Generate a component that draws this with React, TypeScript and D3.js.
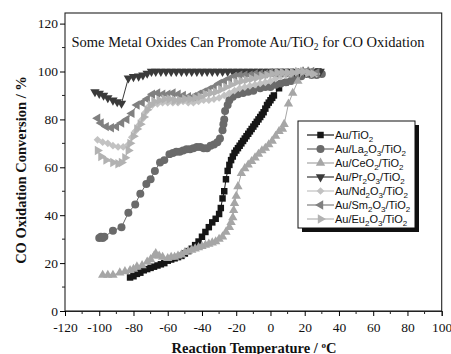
import React, { useEffect, useRef } from "react";
import * as d3 from "d3";

const xTicks = [-120, -100, -80, -60, -40, -20, 0, 20, 40, 60, 80, 100];
const yTicks = [0, 20, 40, 60, 80, 100, 120];

const auTiO2: [number, number][] = [
  [-82, 14], [-80, 14.5], [-78, 15.5], [-76, 16], [-74, 17], [-72, 17.5], [-70, 18], [-68, 18.5], [-66, 19],
  [-64, 19.5], [-62, 20], [-60, 21], [-58, 21.5], [-56, 22], [-54, 22.5], [-52, 23], [-50, 24], [-48, 25],
  [-46, 26], [-44, 27.5], [-42, 29], [-40, 31], [-38, 33], [-36, 35], [-34, 37], [-32, 38.5], [-30, 40.5],
  [-29, 43], [-28, 47], [-27, 50], [-26, 55], [-25, 58.5], [-24, 61], [-23, 63], [-22, 64.5], [-21, 66],
  [-20, 67], [-19, 68], [-18, 69], [-17, 70], [-16, 71], [-15, 72], [-14, 73], [-13, 74], [-12, 75],
  [-11, 76], [-10, 77], [-9, 78], [-8, 79], [-7, 80], [-6, 81], [-5, 82], [-4, 83], [-3, 84.5], [-2, 86],
  [-1, 87], [0, 88], [1, 89], [2, 90], [5, 93], [9, 95.5], [28, 100],
];

const auLa: [number, number][] = [
  [-100, 30.5], [-99, 31], [-98, 30.5], [-97, 31], [-92, 33.5], [-87, 35], [-83, 41], [-79, 44.5], [-76, 49],
  [-72.5, 53], [-70, 55], [-67.5, 58.5], [-64.5, 62], [-62, 63], [-59, 65.5], [-57, 66], [-55, 66.5],
  [-53, 66.5], [-51, 67], [-49, 67.5], [-47, 67.5], [-45, 68], [-43, 68.5], [-41, 68.5], [-39, 68],
  [-37, 68], [-35, 69], [-33, 69.5], [-31, 70.5], [-29.5, 72], [-28, 75.5], [-27.5, 78], [-27, 80],
  [-26.5, 83.5], [-25, 86], [-24, 88], [-22, 89.5], [-19, 90.5], [-16, 91], [-13, 91.5], [-10, 92],
  [-6, 93], [-3, 93.5], [0, 93.5], [3, 94.5], [6, 95], [9, 95.5], [12, 96], [15, 97], [18, 98], [21, 99],
  [24, 98.5], [27, 98.5], [30, 99],
];

const auCe: [number, number][] = [
  [-98, 15], [-95, 15], [-92, 15], [-88, 16], [-85, 16.5], [-82, 17], [-80, 17.5], [-78, 18.5], [-75, 19],
  [-72, 20.5], [-70, 21.5], [-68, 23], [-67, 24], [-65, 23], [-63, 22.5], [-60, 22], [-58, 22.5],
  [-56, 22.5], [-54, 23], [-52, 23.5], [-50, 24.5], [-48, 25], [-46, 25.5], [-44, 26], [-42, 26.5],
  [-40, 27], [-38, 27.5], [-36, 28], [-34, 28.5], [-32, 29], [-30, 30], [-28, 31], [-26, 33], [-24, 35],
  [-23, 37], [-22, 39], [-21.5, 42], [-21, 45], [-20, 48], [-19, 52], [-17, 57.5], [-15, 59.5], [-13, 61],
  [-11, 62.5], [-9, 64], [-7, 65.5], [-5, 67], [-3, 68], [-1, 69.5], [1, 71], [3, 73], [5, 75], [7, 76],
  [8, 78], [10.5, 86.5], [13, 91], [16, 96], [19, 100], [22, 100],
];

const auPr: [number, number][] = [
  [-102.5, 91.5], [-100, 90.8], [-97.5, 90], [-95, 89], [-92, 88], [-89.5, 87.3], [-87, 86.7], [-83, 97.2],
  [-80, 97.8], [-77, 98], [-74.5, 98.5], [-72, 99.2], [-69.5, 100], [-67, 100], [-64, 100], [-61, 100],
  [-58, 100], [-55, 100], [-52, 100], [-49, 100], [-46, 100], [-43, 100], [-40, 100], [-37, 100],
  [-34, 100], [-31, 100], [-28, 100], [-25, 100], [-22, 100], [-19, 100], [-16, 100], [-13, 100],
  [-10, 100], [-7, 100], [-4, 100], [-1, 100], [2, 100], [5, 100], [8, 100], [11, 100], [14, 100],
  [17, 100], [20, 100], [23, 100], [26, 100], [29, 100],
];

const auNd: [number, number][] = [
  [-101, 71.5], [-98, 70.5], [-95, 70], [-92, 69], [-89, 68.5], [-86, 68.5], [-83, 69.5], [-81, 72.5],
  [-79, 75], [-77, 77.5], [-75, 80], [-73, 83], [-71, 85.5], [-69, 86], [-66, 86.5], [-63, 87], [-60, 87],
  [-57, 87], [-54, 87], [-51, 87.5], [-48, 87], [-45, 87], [-42, 87.5], [-39, 88], [-36, 88], [-33, 88.5],
  [-30, 89], [-27, 90], [-24, 91], [-21, 92], [-18, 93], [-15, 93.5], [-12, 94], [-9, 94.5], [-6, 95],
  [-3, 95.5], [0, 96], [3, 97], [6, 98], [9, 98.5], [12, 99], [15, 99.5], [18, 100], [21, 99.5], [24, 99],
  [27, 99],
];

const auSm: [number, number][] = [
  [-101, 80.5], [-99, 78.5], [-96, 77], [-93, 76.5], [-90, 77], [-87, 78.5], [-84, 80], [-81, 82.5],
  [-78, 86], [-75, 87], [-72, 88.5], [-69, 90.5], [-66, 91], [-63, 90.5], [-60, 90.5], [-57, 91],
  [-54, 90.5], [-51, 90], [-48, 89.5], [-45, 89.5], [-42, 90.5], [-39, 91.5], [-36, 92.5], [-33, 93.5],
  [-30, 95], [-27, 96], [-24, 97], [-21, 98], [-18, 98.5], [-15, 98.5], [-12, 98.5], [-9, 99], [-6, 99],
  [-3, 99], [0, 99.5], [3, 99.5], [6, 99.5], [9, 99.5], [12, 99.5], [15, 99.5], [18, 100], [21, 100],
  [24, 100], [27, 99.5],
];

const auEu: [number, number][] = [
  [-101, 67], [-99, 64.5], [-96, 63], [-92, 62], [-89, 61.5], [-87, 62], [-85, 64], [-83, 67], [-82, 70],
  [-80, 73], [-78, 76], [-76, 78], [-74, 81], [-72, 84], [-70, 86], [-68, 87.5], [-65, 88], [-62, 88.5],
  [-59, 88.5], [-56, 88], [-53, 88], [-50, 88.5], [-47, 88.5], [-44, 89], [-41, 89.5], [-38, 90.5],
  [-35, 91], [-32, 91.5], [-29, 92.5], [-26, 93.5], [-23, 94.5], [-20, 95.5], [-17, 96], [-14, 96.5],
  [-11, 97], [-8, 97.5], [-5, 98], [-2, 98.5], [1, 99], [4, 99.5], [7, 99.5], [10, 99.5], [13, 99.5],
  [16, 100], [19, 100], [22, 99.5], [25, 99],
];

type Series = { name: string; sub: string[]; data: [number, number][]; color: string; shape: string };

const seriesList: Series[] = [
  { name: "Au/TiO2", sub: ["Au/TiO", "2"], data: auTiO2, color: "#161616", shape: "square" },
  { name: "Au/La2O3/TiO2", sub: ["Au/La", "2", "O", "3", "/TiO", "2"], data: auLa, color: "#6a6a6a", shape: "circle" },
  { name: "Au/CeO2/TiO2", sub: ["Au/CeO", "2", "/TiO", "2"], data: auCe, color: "#a6a6a6", shape: "up" },
  { name: "Au/Pr2O3/TiO2", sub: ["Au/Pr", "2", "O", "3", "/TiO", "2"], data: auPr, color: "#3a3a3a", shape: "down" },
  { name: "Au/Nd2O3/TiO2", sub: ["Au/Nd", "2", "O", "3", "/TiO", "2"], data: auNd, color: "#c2c2c2", shape: "diamond" },
  { name: "Au/Sm2O3/TiO2", sub: ["Au/Sm", "2", "O", "3", "/TiO", "2"], data: auSm, color: "#808080", shape: "left" },
  { name: "Au/Eu2O3/TiO2", sub: ["Au/Eu", "2", "O", "3", "/TiO", "2"], data: auEu, color: "#b2b2b2", shape: "right" },
];

const W = 451;
const H = 354;

function symbolPath(shape: string): { d: string; rot: number } {
  const sym = d3.symbol();
  switch (shape) {
    case "square":
      return { d: sym.type(d3.symbolSquare).size(42)() as string, rot: 0 };
    case "circle":
      return { d: sym.type(d3.symbolCircle).size(50)() as string, rot: 0 };
    case "up":
      return { d: sym.type(d3.symbolTriangle).size(38)() as string, rot: 0 };
    case "down":
      return { d: sym.type(d3.symbolTriangle).size(38)() as string, rot: 180 };
    case "diamond":
      return { d: sym.type(d3.symbolSquare).size(30)() as string, rot: 45 };
    case "left":
      return { d: sym.type(d3.symbolTriangle).size(38)() as string, rot: -90 };
    default:
      return { d: sym.type(d3.symbolTriangle).size(38)() as string, rot: 90 };
  }
}

export default function App() {
  const ref = useRef<SVGSVGElement>(null);

  useEffect(() => {
    const svg = d3.select(ref.current);
    svg.selectAll("*").remove();

    const x = d3.scaleLinear().domain([-120, 100]).range([65, 441.7]);
    const y = d3.scaleLinear().domain([0, 120]).range([311, 23.6]);
    const top = 13;

    // frame
    svg.append("rect").attr("x", 65).attr("y", top).attr("width", 441.7 - 65).attr("height", 311 - top)
      .attr("fill", "none").attr("stroke", "#222").attr("stroke-width", 1.1);

    // x axis
    const xAxis = d3.axisBottom(x).tickValues(xTicks).tickSize(5).tickFormat((d) => String(d));
    const gx = svg.append("g").attr("transform", "translate(0,311)").call(xAxis);
    gx.select(".domain").attr("stroke", "#222");
    gx.selectAll("text").attr("font-family", "'Liberation Serif', serif").attr("font-size", 13.5).attr("fill", "#111").attr("dy", "0.95em");
    const xMinor = d3.range(-110, 100, 20);
    gx.selectAll(".minor").data(xMinor).enter().append("line").attr("class", "minor")
      .attr("x1", (d) => x(d)).attr("x2", (d) => x(d)).attr("y1", 0).attr("y2", 3).attr("stroke", "#222");

    // y axis
    const yAxis = d3.axisLeft(y).tickValues(yTicks).tickSize(5).tickFormat((d) => String(d));
    const gy = svg.append("g").attr("transform", "translate(65,0)").call(yAxis);
    gy.select(".domain").remove();
    gy.selectAll("text").attr("font-family", "'Liberation Serif', serif").attr("font-size", 13.5).attr("fill", "#111").attr("x", -7);
    const yMinor = d3.range(10, 121, 20);
    gy.selectAll(".minor").data(yMinor).enter().append("line").attr("class", "minor")
      .attr("y1", (d) => y(d)).attr("y2", (d) => y(d)).attr("x1", 0).attr("x2", -3).attr("stroke", "#222");

    // series
    const line = d3.line<[number, number]>().x((d) => x(d[0])).y((d) => y(d[1]));
    seriesList.forEach((s) => {
      const g = svg.append("g");
      g.append("path").attr("d", line(s.data) as string).attr("fill", "none").attr("stroke", s.color).attr("stroke-width", 1);
      const sp = symbolPath(s.shape);
      g.selectAll("path.m").data(s.data).enter().append("path").attr("class", "m")
        .attr("d", sp.d)
        .attr("transform", (d) => `translate(${x(d[0])},${y(d[1])}) rotate(${sp.rot})`)
        .attr("fill", s.color);
    });

    // title
    const title = svg.append("text").attr("x", 248).attr("y", 47).attr("text-anchor", "middle")
      .attr("font-family", "'Liberation Serif', serif").attr("font-size", 14.5).attr("fill", "#111");
    title.append("tspan").text("Some Metal Oxides Can Promote Au/TiO");
    title.append("tspan").attr("font-size", 9.5).attr("dy", 3).text("2");
    title.append("tspan").attr("dy", -3).text(" for CO Oxidation");

    // legend
    const lx = 298, ly = 121, lw = 117, lh = 107;
    svg.append("rect").attr("x", lx + 4).attr("y", ly + 4).attr("width", lw).attr("height", lh).attr("fill", "#111");
    svg.append("rect").attr("x", lx).attr("y", ly).attr("width", lw).attr("height", lh).attr("fill", "#fff").attr("stroke", "#111").attr("stroke-width", 1);
    seriesList.forEach((s, i) => {
      const cy = 135 + i * 14;
      svg.append("line").attr("x1", 307).attr("x2", 334).attr("y1", cy).attr("y2", cy).attr("stroke", s.color).attr("stroke-width", 1.2);
      const sp = symbolPath(s.shape);
      svg.append("path").attr("d", sp.d).attr("transform", `translate(320.5,${cy}) rotate(${sp.rot})`).attr("fill", s.color);
      const t = svg.append("text").attr("x", 335).attr("y", cy + 4).attr("font-family", "'Liberation Sans', Arial, sans-serif")
        .attr("font-size", 11).attr("fill", "#111");
      s.sub.forEach((part, k) => {
        const isSub = k % 2 === 1;
        const ts = t.append("tspan").text(part);
        if (isSub) ts.attr("font-size", 8).attr("dy", 3);
        else if (k > 0) ts.attr("dy", -3);
      });
    });

    // axis labels
    const xl = svg.append("text").attr("x", 254).attr("y", 352.5).attr("text-anchor", "middle")
      .attr("font-family", "'Liberation Serif', serif").attr("font-weight", "bold").attr("font-size", 14.5).attr("fill", "#111");
    xl.append("tspan").text("Reaction Temperature / ");
    xl.append("tspan").attr("font-size", 9).attr("dy", -5).text("o");
    xl.append("tspan").attr("dy", 5).text("C");

    svg.append("text").attr("transform", "translate(26,170) rotate(-90)").attr("text-anchor", "middle")
      .attr("font-family", "'Liberation Serif', serif").attr("font-weight", "bold").attr("font-size", 14.5).attr("fill", "#111")
      .text("CO Oxidation Conversion / %");
  }, []);

  return (
    <svg ref={ref} width={W} height={H} style={{ position: "absolute", left: 0, top: 0, background: "#fff" }} />
  );
}
